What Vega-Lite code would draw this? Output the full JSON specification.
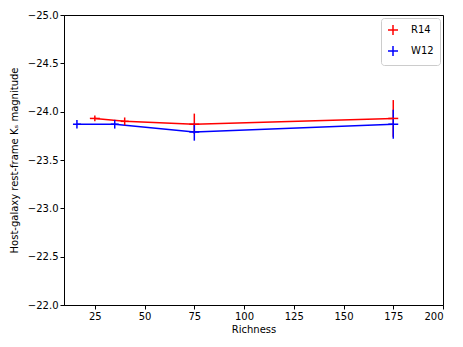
{
  "$schema": "https://vega.github.io/schema/vega-lite/v6.json",
  "autosize": "none",
  "width": 379,
  "height": 290,
  "padding": {"left": 64, "top": 15, "right": 20, "bottom": 42},
  "background": "white",
  "config": {
    "font": "DejaVu Sans",
    "view": {"stroke": "black", "strokeWidth": 1},
    "axis": {
      "grid": false,
      "domainColor": "black",
      "tickColor": "black",
      "tickSize": 4,
      "labelFontSize": 10,
      "labelColor": "black",
      "titleFontSize": 10,
      "titleFontWeight": "normal",
      "titleColor": "black",
      "labelPadding": 2
    }
  },
  "data": {
    "values": [
      {"series": "R14", "richness": 25, "mag": -23.93, "mag_lo": -23.96, "mag_hi": -23.90, "rich_lo": 22.5, "rich_hi": 27.5},
      {"series": "R14", "richness": 40, "mag": -23.90, "mag_lo": -23.94, "mag_hi": -23.86, "rich_lo": 38, "rich_hi": 42},
      {"series": "R14", "richness": 75, "mag": -23.87, "mag_lo": -23.98, "mag_hi": -23.77, "rich_lo": 72.5, "rich_hi": 77.5},
      {"series": "R14", "richness": 175, "mag": -23.93, "mag_lo": -24.12, "mag_hi": -23.74, "rich_lo": 172.5, "rich_hi": 177.5},
      {"series": "W12", "richness": 16, "mag": -23.87, "mag_lo": -23.915, "mag_hi": -23.825, "rich_lo": 14, "rich_hi": 18},
      {"series": "W12", "richness": 35, "mag": -23.87, "mag_lo": -23.915, "mag_hi": -23.825, "rich_lo": 33, "rich_hi": 37},
      {"series": "W12", "richness": 75, "mag": -23.79, "mag_lo": -23.88, "mag_hi": -23.70, "rich_lo": 72.5, "rich_hi": 77.5},
      {"series": "W12", "richness": 175, "mag": -23.87, "mag_lo": -24.02, "mag_hi": -23.72, "rich_lo": 172.5, "rich_hi": 177.5}
    ]
  },
  "encoding": {
    "color": {
      "field": "series",
      "type": "nominal",
      "scale": {"domain": ["R14", "W12"], "range": ["#ff0000", "#0000ff"]},
      "legend": {
        "title": null,
        "orient": "top-right",
        "offset": 3,
        "symbolType": "M-1,0L1,0M0,-1L0,1",
        "symbolSize": 100,
        "symbolStrokeWidth": 1.5,
        "labelFontSize": 10,
        "labelColor": "black",
        "strokeColor": "#cccccc",
        "fillColor": "white",
        "cornerRadius": 3,
        "padding": 6,
        "rowPadding": 5,
        "labelOffset": 12
      }
    }
  },
  "layer": [
    {
      "mark": {"type": "line", "strokeWidth": 1.5},
      "encoding": {
        "x": {
          "field": "richness",
          "type": "quantitative",
          "title": "Richness",
          "scale": {"domain": [9.5, 200], "nice": false, "zero": false},
          "axis": {"values": [25, 50, 75, 100, 125, 150, 175, 200], "titlePadding": 3}
        },
        "y": {
          "field": "mag",
          "type": "quantitative",
          "title": "Host-galaxy rest-frame Kₛ magnitude",
          "scale": {"domain": [-25, -22], "reverse": true, "nice": false, "zero": false},
          "axis": {
            "values": [-25, -24.5, -24, -23.5, -23, -22.5, -22],
            "labelExpr": "replace(format(datum.value, '.1f'), '-', '−')",
            "titlePadding": 8
          }
        }
      }
    },
    {
      "mark": {"type": "rule", "strokeWidth": 1.5},
      "encoding": {
        "x": {"field": "richness", "type": "quantitative"},
        "y": {"field": "mag_lo", "type": "quantitative"},
        "y2": {"field": "mag_hi"}
      }
    },
    {
      "mark": {"type": "rule", "strokeWidth": 1.5},
      "encoding": {
        "x": {"field": "rich_lo", "type": "quantitative"},
        "x2": {"field": "rich_hi"},
        "y": {"field": "mag", "type": "quantitative"}
      }
    }
  ]
}
